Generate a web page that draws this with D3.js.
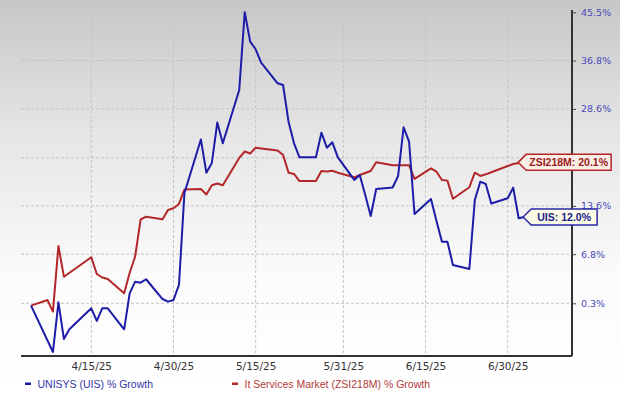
<!DOCTYPE html>
<html>
<head>
<meta charset="utf-8">
<script src="https://cdn.jsdelivr.net/npm/d3@7"></script>
<style>
  html, body { margin: 0; padding: 0; background: #fff; }
  svg { display: block; }
</style>
</head>
<body>
<svg id="chart" width="620" height="393"></svg>
<script>
// ---- data ----
const uisDates = ["2025-04-04","2025-04-08","2025-04-09","2025-04-10","2025-04-11","2025-04-15","2025-04-16","2025-04-17","2025-04-18","2025-04-21","2025-04-22","2025-04-23","2025-04-24","2025-04-25","2025-04-28","2025-04-29","2025-04-30","2025-05-01","2025-05-02","2025-05-05","2025-05-06","2025-05-07","2025-05-08","2025-05-09","2025-05-12","2025-05-13","2025-05-14","2025-05-15","2025-05-16","2025-05-19","2025-05-20","2025-05-21","2025-05-22","2025-05-23","2025-05-26","2025-05-27","2025-05-28","2025-05-29","2025-05-30","2025-06-02","2025-06-03","2025-06-04","2025-06-05","2025-06-06","2025-06-09","2025-06-10","2025-06-11","2025-06-12","2025-06-13","2025-06-16","2025-06-17","2025-06-18","2025-06-19","2025-06-20","2025-06-23","2025-06-24","2025-06-25","2025-06-26","2025-06-27","2025-06-30","2025-07-01","2025-07-02","2025-07-03"];
const uisValues = [0.0,-5.75,0.43,-4.17,-2.98,-0.34,-1.94,-0.34,-0.34,-2.98,1.59,3.11,2.98,3.43,0.85,0.51,0.72,2.68,15.49,23.67,18.53,20.01,26.38,23.07,31.74,45.5,40.14,38.78,36.42,32.88,32.59,26.51,23.07,20.88,20.88,24.75,22.38,23.22,20.88,17.43,18.18,15.2,12.14,16.08,16.3,18.03,25.61,23.32,12.43,14.61,11.43,8.52,8.52,5.33,4.8,14.46,17.17,16.83,13.95,14.71,16.28,11.82,12.0];

const zsiDates = ["2025-04-04","2025-04-07","2025-04-08","2025-04-09","2025-04-10","2025-04-15","2025-04-16","2025-04-17","2025-04-18","2025-04-21","2025-04-22","2025-04-23","2025-04-24","2025-04-25","2025-04-28","2025-04-29","2025-04-30","2025-05-01","2025-05-02","2025-05-05","2025-05-06","2025-05-07","2025-05-08","2025-05-09","2025-05-12","2025-05-13","2025-05-14","2025-05-15","2025-05-16","2025-05-19","2025-05-20","2025-05-21","2025-05-22","2025-05-23","2025-05-26","2025-05-27","2025-05-28","2025-05-29","2025-05-30","2025-06-02","2025-06-03","2025-06-04","2025-06-05","2025-06-06","2025-06-09","2025-06-10","2025-06-11","2025-06-12","2025-06-13","2025-06-16","2025-06-17","2025-06-18","2025-06-19","2025-06-20","2025-06-23","2025-06-24","2025-06-25","2025-06-26","2025-06-27","2025-06-30","2025-07-01","2025-07-02","2025-07-03"];
const zsiValues = [0.0,0.72,-0.77,7.92,3.77,6.38,4.13,3.66,3.47,1.59,4.26,6.48,11.64,12.04,11.67,13.01,13.25,13.88,16.01,16.08,15.27,16.63,16.9,16.63,20.78,21.78,21.47,22.38,22.26,21.94,21.24,18.53,18.33,17.27,17.27,18.78,18.71,18.83,18.53,17.83,18.18,18.48,18.78,20.11,19.65,19.65,19.65,19.65,17.58,19.19,18.68,17.43,17.33,14.65,16.34,18.53,18.03,18.28,18.6,19.55,19.85,20.0,20.1];

const xTickDates = ["2025-04-15","2025-04-30","2025-05-15","2025-05-31","2025-06-15","2025-06-30"];
const xTickLabels = ["4/15/25","4/30/25","5/15/25","5/31/25","6/15/25","6/30/25"];
// the 4th tick's label is hidden under the ZSI218M end label in the reference
const yTickValues = [0.3, 6.8, 13.6, 20.8, 28.6, 36.8, 45.5];
const yTickLabels = ["0.3%","6.8%","13.6%","","28.6%","36.8%","45.5%"];

const seriesNames = ["UNISYS (UIS) % Growth", "It Services Market (ZSI218M) % Growth"];
const endLabels = ["UIS: 12.0%", "ZSI218M: 20.1%"];

// ---- setup ----
const parse = d3.timeParse("%Y-%m-%d");
const svg = d3.select("#chart");
const W = 620, H = 393;
const plotL = 21, plotR = 572, plotT = 10, plotB = 356;

const defs = svg.append("defs");
const grad = defs.append("linearGradient").attr("id","bg").attr("x1",0).attr("y1",0).attr("x2",0).attr("y2",1);
grad.append("stop").attr("offset","0%").attr("stop-color","#c7c7c7");
grad.append("stop").attr("offset","35%").attr("stop-color","#e6e6e6");
grad.append("stop").attr("offset","70%").attr("stop-color","#fbfbfb");
grad.append("stop").attr("offset","100%").attr("stop-color","#ffffff");
svg.append("rect").attr("width",W).attr("height",H).attr("fill","url(#bg)");

const x = d3.scaleTime()
  .domain([parse("2025-04-15"), parse("2025-06-30")])
  .range([91.3, 507.7]);
const y = d3.scaleLog()
  .domain([1.003, 1.455])
  .range([303.3, 12.3]);
const yv = v => y(1 + v / 100);

// grid
const grid = svg.append("g");
grid.selectAll("line.h").data(yTickValues).join("line")
  .attr("x1", plotL).attr("x2", plotR)
  .attr("y1", d => yv(d)).attr("y2", d => yv(d))
  .attr("stroke","#c4c4c4").attr("stroke-width",1).attr("stroke-dasharray","3,2");
grid.selectAll("line.v").data(xTickDates).join("line")
  .attr("x1", d => x(parse(d))).attr("x2", d => x(parse(d)))
  .attr("y1", plotT).attr("y2", plotB)
  .attr("stroke","#c4c4c4").attr("stroke-width",1).attr("stroke-dasharray","3,2");

// axes
const gy = svg.append("g").attr("transform", `translate(${plotR},0)`);
gy.call(d3.axisRight(y).tickValues(yTickValues.map(v => 1 + v/100))
  .tickFormat((d,i) => yTickLabels[i]).tickSize(4).tickSizeOuter(0).tickPadding(5));
gy.select(".domain").attr("stroke","#333").attr("stroke-width",2).attr("d", `M0,${plotT}V${plotB}`);
gy.selectAll(".tick line").attr("stroke","#444").attr("stroke-width",1);
gy.selectAll(".tick text").attr("fill","#4a4ab8").attr("font-family","DejaVu Sans, Verdana, sans-serif").attr("font-size","9.5px");

const gx = svg.append("g").attr("transform", `translate(0,${plotB})`);
gx.call(d3.axisBottom(x).tickValues(xTickDates.map(parse))
  .tickFormat((d,i) => xTickLabels[i]).tickSize(0).tickPadding(7));
gx.select(".domain").attr("stroke","#333").attr("stroke-width",2).attr("d", `M${plotL},0H${plotR}`);
gx.selectAll(".tick text").attr("fill","#333").attr("font-family","DejaVu Sans, Verdana, sans-serif").attr("font-size","10.5px");

// lines
const line = d3.line().x(d => x(d.date)).y(d => yv(d.v));
const uis = uisDates.map((d,i) => ({date: parse(d), v: uisValues[i]}));
const zsi = zsiDates.map((d,i) => ({date: parse(d), v: zsiValues[i]}));
const colors = ["#1c1ca8", "#b3262a"];

svg.append("path").datum(zsi).attr("d", line).attr("fill","none")
  .attr("stroke", colors[1]).attr("stroke-width",2).attr("stroke-linejoin","round");
svg.append("path").datum(uis).attr("d", line).attr("fill","none")
  .attr("stroke", colors[0]).attr("stroke-width",2).attr("stroke-linejoin","round");

// end labels
function endLabel(pt, text, tipOffset, w, stroke, fill, color) {
  const tx = x(pt.date) + tipOffset, ty = yv(pt.v);
  const g = svg.append("g");
  const h = 16, notch = 8;
  const p = `M${tx},${ty} L${tx+notch},${ty-h/2} H${tx+notch+w} V${ty+h/2} H${tx+notch} Z`;
  g.append("path").attr("d", p).attr("fill", fill).attr("stroke", stroke).attr("stroke-width",1.5);
  g.append("text").attr("x", tx + notch + w/2).attr("y", ty + 3.8)
    .attr("text-anchor","middle").attr("fill", color)
    .attr("font-family","Liberation Sans, Arial, sans-serif").attr("font-weight","bold")
    .attr("font-size","10.5px").text(text);
}
endLabel(zsi[zsi.length-1], endLabels[1], -6, 85, "#b3262a", "#fbeee6", "#9a2020");
endLabel(uis[uis.length-1], endLabels[0], -1, 66, "#2a2aa8", "#fbfbe6", "#22228e");

// legend
const leg = svg.append("g").attr("font-family","Liberation Sans, Arial, sans-serif").attr("font-size","10.5px");
const legX = [25, 232];
seriesNames.forEach((n,i) => {
  leg.append("rect").attr("x", legX[i]).attr("y", 382.5).attr("width",6).attr("height",2.5).attr("fill", colors[i]);
  leg.append("text").attr("x", legX[i] + 12.5).attr("y", 387.5).attr("fill", i === 0 ? "#3434a8" : "#b33a3a").text(n);
});
</script>
</body>
</html>
